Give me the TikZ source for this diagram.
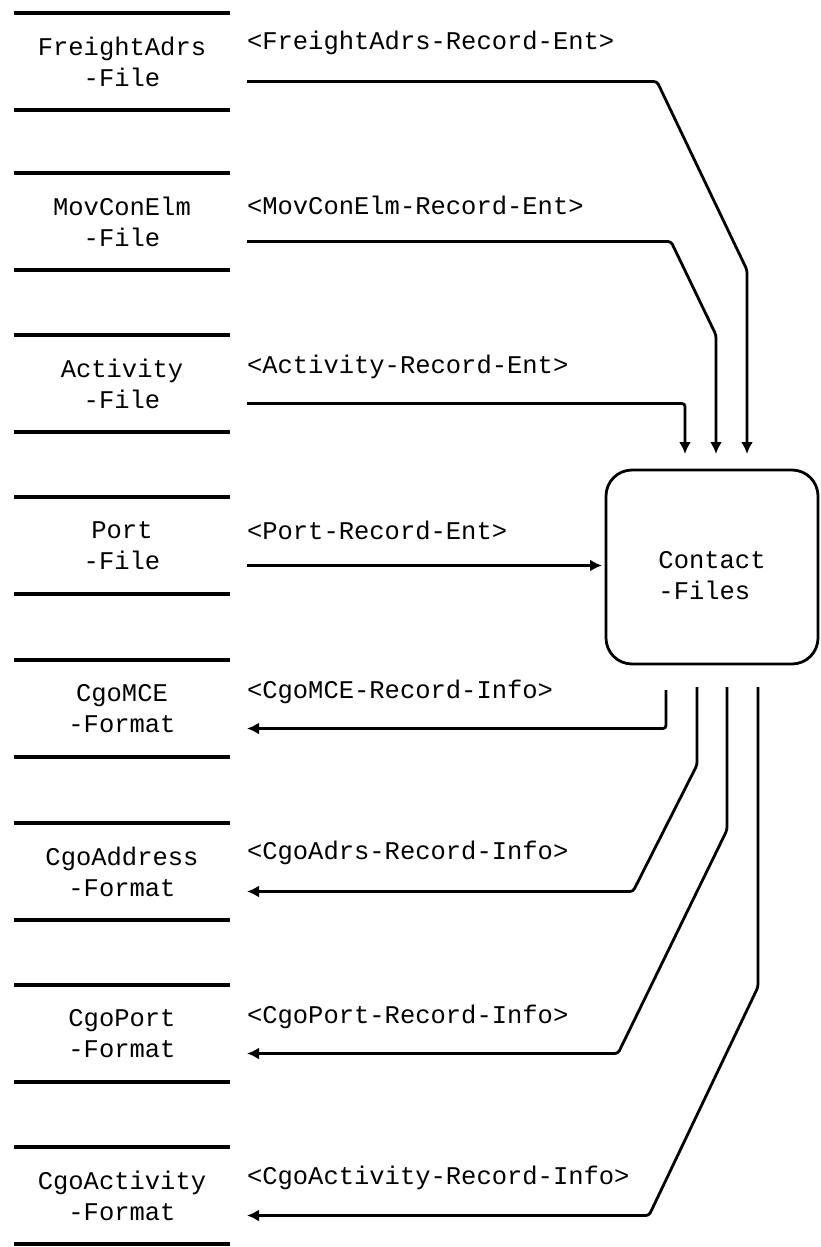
\documentclass[tikz,border=0pt]{standalone}
\usepackage{fontspec}
\setmonofont{Liberation Mono}
\usetikzlibrary{arrows.meta,calc}
\begin{document}
\begin{tikzpicture}[x=1pt,y=-1pt,
  every node/.style={font=\ttfamily\fontsize{25.5}{31}\selectfont, inner sep=0pt, outer sep=0pt},
  storeline/.style={line width=3.8pt},
  store/.style={minimum width=216pt, minimum height=97pt, align=center},
  lbl/.style={anchor=west},
  flow/.style={line width=2.8pt, rounded corners=3pt},
  headend/.style={-{Latex[length=12pt,width=12pt]}},
  box/.style={draw, line width=2.8pt, rounded corners=26pt, minimum width=212pt, minimum height=194pt}
]
\useasboundingbox (0,0) rectangle (821,1247);

% data stores
\node[store] (s1) at (122,61.5)   {FreightAdrs\\-File};
\node[store] (s2) at (122,221.5)  {MovConElm\\-File};
\node[store] (s3) at (122,383.5)  {Activity\\-File};
\node[store] (s4) at (122,545.5)  {Port\\-File};
\node[store] (s5) at (122,708.5)  {CgoMCE\\-Format};
\node[store] (s6) at (122,871.5)  {CgoAddress\\-Format};
\node[store] (s7) at (122,1033.5) {CgoPort\\-Format};
\node[store] (s8) at (122,1195.5) {CgoActivity\\-Format};
\foreach \s in {s1,s2,s3,s4,s5,s6,s7,s8}{
  \draw[storeline] (\s.north west) -- (\s.north east) (\s.south west) -- (\s.south east);
}

% process
\node[box] (cf) at (712,567) {};
\node[align=left] (cft) at (712,576) {Contact\\-Files};

% flow labels
\node[lbl] (l1) at (247,43)   {<FreightAdrs-Record-Ent>};
\node[lbl] (l2) at (247,205)  {<MovConElm-Record-Ent>};
\node[lbl] (l3) at (247,367)  {<Activity-Record-Ent>};
\node[lbl] (l4) at (247,530)  {<Port-Record-Ent>};
\node[lbl] (l5) at (247,692)  {<CgoMCE-Record-Info>};
\node[lbl] (l6) at (247,853)  {<CgoAdrs-Record-Info>};
\node[lbl] (l7) at (247,1017) {<CgoPort-Record-Info>};
\node[lbl] (l8) at (247,1178) {<CgoActivity-Record-Info>};

% connector ends next to the stores
\foreach \i in {1,...,8}{
  \coordinate (a\i) at ($(s\i.east)+(17,20)$);
}

% incoming flows
\draw[flow,headend,shorten >=16pt] (a1) -- ++(410,0) -- (747,270) -- ([xshift=35pt]cf.north);
\draw[flow,headend,shorten >=16pt] (a2) -- ++(424,0) -- (716,335) -- ([xshift=4pt]cf.north);
\draw[flow,headend,shorten >=16pt] (a3) -- ++(438,0) -- ([xshift=-27pt]cf.north);
\draw[flow,headend,shorten >=4pt] (a4) -- (a4 -| cf.west);

% outgoing flows
\draw[flow,headend,shorten <=26pt] ([xshift=-46pt]cf.south) |- (a5);
\draw[flow,headend,shorten <=23pt] ([xshift=-15pt]cf.south) -- (697,765) -- (633,891.5) -- (a6);
\draw[flow,headend,shorten <=23pt] ([xshift=15pt]cf.south) -- (727,830) -- (618,1053.5) -- (a7);
\draw[flow,headend,shorten <=23pt] ([xshift=46pt]cf.south) -- (758,987) -- (649,1215.5) -- (a8);
\end{tikzpicture}
\end{document}
